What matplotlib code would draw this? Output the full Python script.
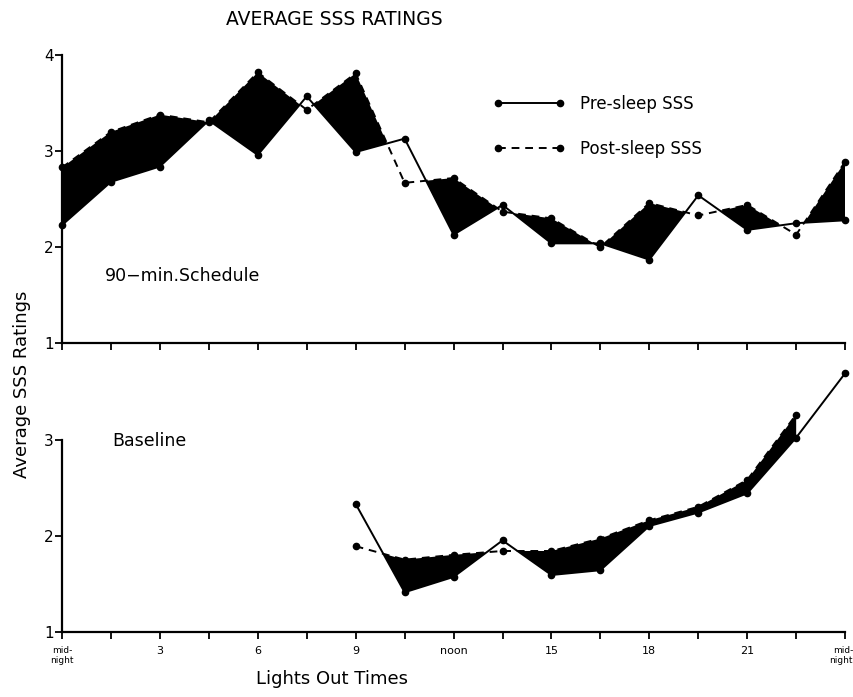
import matplotlib.pyplot as plt
import matplotlib.transforms as mtransforms
import numpy as np
from matplotlib.ticker import MultipleLocator

# 90-min schedule: lights out every 1.5 h from midnight to midnight
sched_times = np.arange(0, 24.1, 1.5)
sched_pre = [2.23, 2.68, 2.84, 3.32, 2.96, 3.57, 2.99, 3.13, 2.13,
             2.44, 2.04, 2.04, 1.87, 2.54, 2.18, 2.25, 2.28]
sched_post = [2.83, 3.20, 3.38, 3.30, 3.82, 3.43, 3.81, 2.67, 2.72,
              2.37, 2.30, 2.00, 2.46, 2.33, 2.44, 2.13, 2.89]

# baseline: 09:00 to midnight
base_times = np.arange(9, 24.1, 1.5)
base_pre = [2.33, 1.41, 1.57, 1.95, 1.59, 1.64, 2.10, 2.24, 2.44, 3.02, 3.69]
base_post_times = np.arange(9, 22.6, 1.5)
base_post = [1.89, 1.75, 1.80, 1.84, 1.84, 1.97, 2.16, 2.30, 2.58, 3.26]

tick_labels = ['mid-\nnight', '3', '6', '9', 'noon', '15', '18', '21', 'mid-\nnight']

plt.rcParams['font.family'] = 'DejaVu Sans'

fig = plt.figure(figsize=(8.54, 6.97), dpi=100)
ax1 = fig.add_axes([0.0726, 0.5075, 0.917, 0.4135])
ax2 = fig.add_axes([0.0726, 0.0937, 0.917, 0.4135])

solid = dict(color='black', lw=1.4, marker='o', ms=4.5, clip_on=False)
dashed = dict(color='black', lw=1.4, ls=(0, (4, 3)), marker='o', ms=4.5, clip_on=False)

# top panel: shade only where post-sleep rating is above pre-sleep
pre = np.array(sched_pre)
post = np.array(sched_post)
ax1.fill_between(sched_times, pre, post, where=post >= pre, interpolate=True,
                 color='black', lw=0)
h_pre, = ax1.plot(sched_times, sched_pre, **solid)
h_post, = ax1.plot(sched_times, sched_post, **dashed)
ax1.set_xlim(0, 24)
ax1.set_ylim(1, 4)
ax1.text(1.3, 1.70, '90\u2212min.Schedule', fontsize=12.5, va='center')

# bottom panel
n = len(base_post)
bpre = np.array(base_pre[:n])
bpost = np.array(base_post)
ax2.fill_between(base_post_times, bpre, bpost, where=bpost >= bpre, interpolate=True,
                 color='black', lw=0)
ax2.plot(base_times, base_pre, **solid)
ax2.plot(base_post_times, base_post, **dashed)
ax2.set_xlim(0, 24)
ax2.set_ylim(1, 4)
ax2.text(1.55, 2.98, 'Baseline', fontsize=12.5, va='center')

for ax in (ax1, ax2):
    ax.spines['top'].set_visible(False)
    ax.spines['right'].set_visible(False)
    ax.spines['left'].set_linewidth(1.6)
    ax.spines['bottom'].set_linewidth(1.6)
    ax.xaxis.set_major_locator(MultipleLocator(3))
    ax.xaxis.set_minor_locator(MultipleLocator(1.5))
    ax.tick_params(which='both', direction='out', length=5, width=1.3)
    ax.tick_params(axis='y', labelsize=11, pad=1)
    ax.patch.set_alpha(0)

ax1.set_yticks([1, 2, 3, 4])
ax1.tick_params(axis='x', labelbottom=False)
ax2.set_yticks([1, 2, 3])
ax2.spines['left'].set_bounds(1, 3)
ax2.set_xticks(np.arange(0, 25, 3))
ax2.set_xticklabels(tick_labels)
ax2.tick_params(axis='x', pad=5)
labels = ax2.get_xticklabels()
for lab in labels:
    lab.set_fontsize(6.5 if 'mid' in lab.get_text() else 8)
labels[-1].set_horizontalalignment('right')
labels[-1].set_transform(labels[-1].get_transform() +
                         mtransforms.ScaledTranslation(0.08, 0, fig.dpi_scale_trans))

ax1.legend([h_pre, h_post], ['Pre-sleep SSS', 'Post-sleep SSS'],
           loc='upper left', bbox_to_anchor=(0.56, 0.885),
           bbox_transform=fig.transFigure, frameon=False, numpoints=2,
           handlelength=4.3, handletextpad=0.9, labelspacing=1.6,
           fontsize=12)

fig.text(0.392, 0.972, 'AVERAGE SSS RATINGS', fontsize=13.5, ha='center', va='center')
fig.text(0.026, 0.448, 'Average SSS Ratings', fontsize=13, rotation=90,
         ha='center', va='center')
fig.text(0.389, 0.013, 'Lights Out Times', fontsize=13, ha='center', va='bottom')

fig.savefig('out.png', dpi=100)
